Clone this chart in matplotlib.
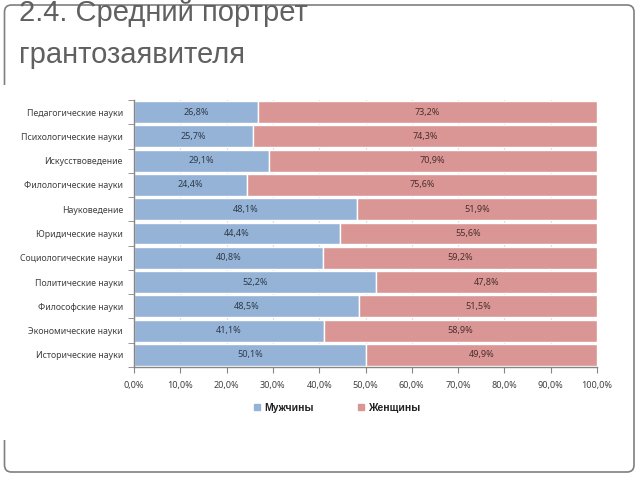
import matplotlib
matplotlib.use("Agg")
import matplotlib.pyplot as plt
import numpy as np
from matplotlib.patches import FancyBboxPatch, Rectangle
from matplotlib.lines import Line2D
from matplotlib.transforms import IdentityTransform
from matplotlib.ticker import FixedLocator

categories = ["Педагогические науки", "Психологические науки", "Искусствоведение",
              "Филологические науки", "Науковедение", "Юридические науки",
              "Социологические науки", "Политические науки", "Философские науки",
              "Экономические науки", "Исторические науки"]
men = [26.8, 25.7, 29.1, 24.4, 48.1, 44.4, 40.8, 52.2, 48.5, 41.1, 50.1]
women = [73.2, 74.3, 70.9, 75.6, 51.9, 55.6, 59.2, 47.8, 51.5, 58.9, 49.9]
series_names = ["Мужчины", "Женщины"]
x_ticks = [0, 10, 20, 30, 40, 50, 60, 70, 80, 90, 100]
title_lines = ["2.4. Средний портрет", "грантозаявителя"]

BLUE = "#95b3d7"
RED = "#d99694"
FONT = ["Noto Sans", "DejaVu Sans"]
TFONT = ["Liberation Sans", "DejaVu Sans"]

fig = plt.figure(figsize=(6.4, 4.8), dpi=100)
fig.patch.set_facecolor("white")

# slide border
border = FancyBboxPatch((4.5, 8), 629.5, 467, boxstyle="round,pad=0,rounding_size=7",
                        transform=IdentityTransform(), fill=False,
                        edgecolor="#7f7f7f", linewidth=1.2, zorder=0)
fig.patches.append(border)
cover = Rectangle((0, 40), 20, 355, transform=IdentityTransform(),
                  facecolor="white", edgecolor="none", zorder=1)
fig.patches.append(cover)

# title
fig.text(19 / 640, 1 - 21 / 480, title_lines[0], family=TFONT, fontsize=21,
         color="#606060", va="baseline", ha="left")
fig.text(19 / 640, 1 - 63 / 480, title_lines[1], family=TFONT, fontsize=21,
         color="#606060", va="baseline", ha="left")

ax = fig.add_axes([134 / 640, 1 - 367 / 480, 463 / 640, 267 / 480])
n = len(categories)
y = np.arange(n)[::-1]
ax.barh(y, men, height=0.9, color=BLUE, edgecolor="white", linewidth=1, zorder=2)
ax.barh(y, women, left=men, height=0.9, color=RED, edgecolor="white", linewidth=1, zorder=2)

def fmt(v):
    return f"{v:.1f}%".replace(".", ",")

for yi, m, w in zip(y, men, women):
    ax.text(m / 2, yi, fmt(m), ha="center", va="center", fontsize=6.5,
            family=FONT, color="#2f3b4a", zorder=3)
    ax.text(m + w / 2, yi, fmt(w), ha="center", va="center", fontsize=6.5,
            family=FONT, color="#4a2f2f", zorder=3)

ax.set_xlim(0, 100)
ax.set_ylim(-0.5, n - 0.5)
ax.set_xticks(x_ticks)
ax.set_xticklabels([f"{t:.1f}%".replace(".", ",") for t in x_ticks],
                   family=FONT, fontsize=6.5, color="#404040")
ax.set_yticks(y)
ax.set_yticklabels(categories, family=FONT, fontsize=6.3, color="#404040")
ax.tick_params(axis="y", length=0, pad=8)
ax.yaxis.set_minor_locator(FixedLocator(np.arange(-0.5, n, 1.0)))
ax.tick_params(axis="y", which="minor", length=4, color="#868686", direction="out")
ax.tick_params(axis="x", length=4, color="#868686", direction="out", pad=6)
ax.grid(axis="x", color="#d9d9d9", linewidth=0.8, zorder=0)
ax.set_axisbelow(True)
for s in ["top", "right"]:
    ax.spines[s].set_visible(False)
for s in ["left", "bottom"]:
    ax.spines[s].set_color("#868686")
    ax.spines[s].set_linewidth(1)

handles = [Line2D([], [], marker="s", linestyle="none", markersize=4,
                  markerfacecolor=c, markeredgecolor=c) for c in (BLUE, RED)]
fig.legend(handles, series_names, loc="center", bbox_to_anchor=(337 / 640, 1 - 408 / 480),
           ncol=2, frameon=False, handlelength=0.6, handletextpad=0.4,
           columnspacing=4.2, labelcolor="#222222",
           prop={"family": ["Liberation Sans", "DejaVu Sans"], "size": 7.5, "weight": "bold"})

fig.savefig("out.png", dpi=100, facecolor="white")
